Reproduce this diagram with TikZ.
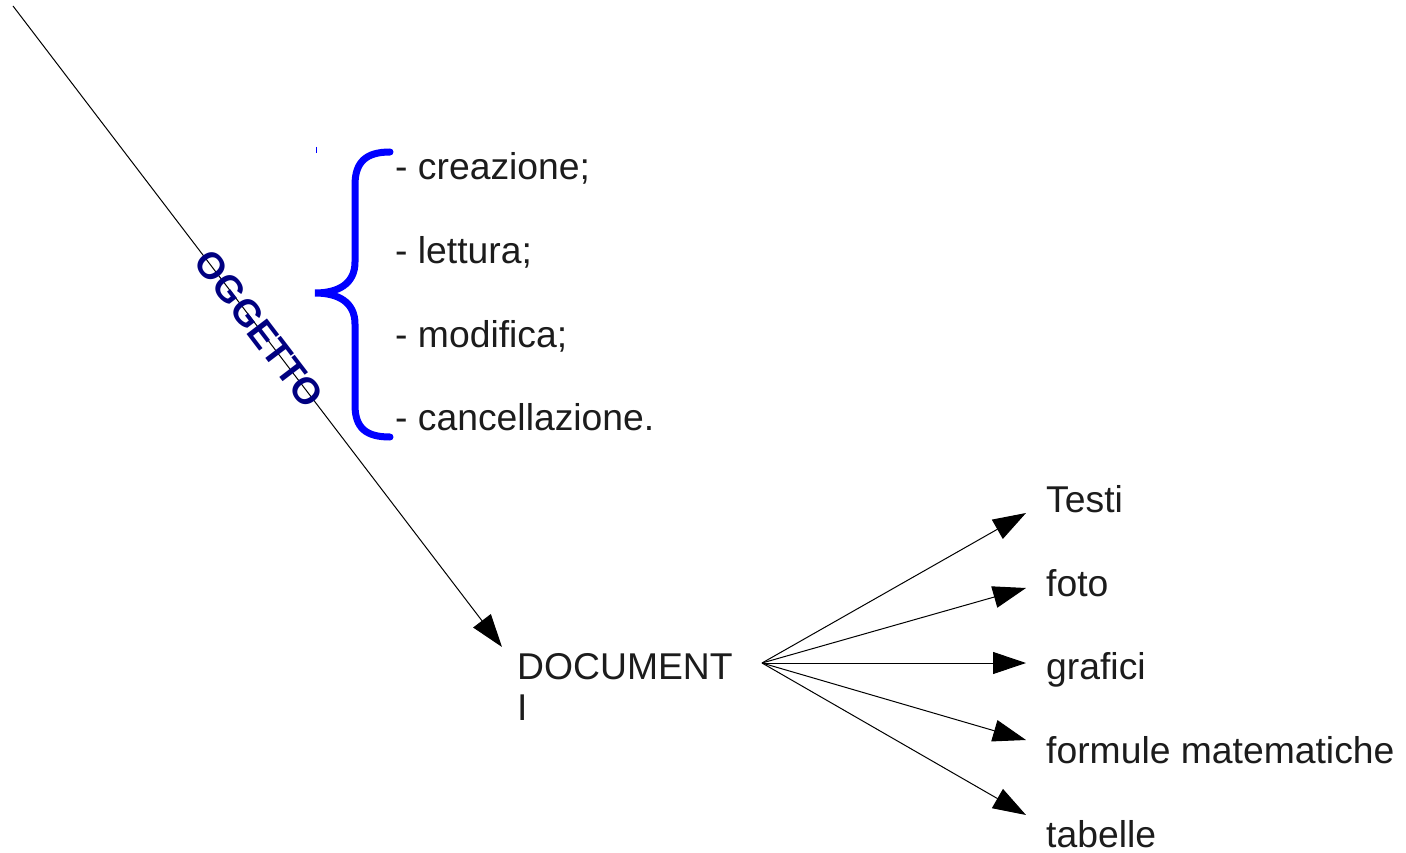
\documentclass[tikz,border=0pt]{standalone}
\usepackage{fontspec}
\setmainfont{Liberation Sans}
\usetikzlibrary{arrows.meta}
\definecolor{txt}{RGB}{28,28,28}
\definecolor{oggcol}{RGB}{0,0,128}
\tikzset{
  lbl/.style={anchor=base west, inner sep=0pt, text=txt, font=\fontsize{37.3}{44}\selectfont},
  conn/.style={draw=black, line width=1pt, -{Triangle[length=33pt,width=22pt]}},
  bracestyle/.style={draw={rgb,255:red,0;green,0;blue,255}, line width=7pt, line cap=round}
}
\begin{document}
\begin{tikzpicture}[x=1pt,y=-1pt]
\useasboundingbox (0,0) rectangle (1406,853);
% main line
\coordinate (start) at (13,6);
\coordinate (docTip) at (502,647);
\draw[conn] (start) -- (docTip);
\node[inner sep=0pt, text=oggcol, rotate=-52.66, font=\bfseries\fontsize{37.3}{44}\selectfont] (ogg) at (259.4,329) {OGGETTO};
% small tick
\draw[draw={rgb,255:red,0;green,0;blue,255}, line width=1pt] (316,147) -- (316,153);
% brace
\draw[bracestyle] (390,152) .. controls (366,152) and (355,162) .. (355,185) -- (355,262) .. controls (355,284) and (338,293) .. (315,293) .. controls (338,293) and (355,302) .. (355,324) -- (355,405) .. controls (355,428) and (366,437) .. (390,437);
% list
\node[lbl] (l1) at (395,180) {- creazione;};
\node[lbl] (l2) at (395,263) {- lettura;};
\node[lbl] (l3) at (395,347) {- modifica;};
\node[lbl] (l4) at (395,430) {- cancellazione.};
% documenti
\node[lbl] (doc) at (517,679) {DOCUMENT};
\node[lbl] (docI) at (517,720) {I};
% targets
\node[lbl] (t1) at (1046,512) {Testi};
\node[lbl] (t2) at (1046,596) {foto};
\node[lbl] (t3) at (1046,679) {grafici};
\node[lbl] (t4) at (1046,763) {formule matematiche};
\node[lbl] (t5) at (1046,847) {tabelle};
\coordinate (hub) at (762,663);
\coordinate (a1) at (1026,513);
\coordinate (a2) at (1026,588);
\coordinate (a3) at (1026,663);
\coordinate (a4) at (1026,740);
\coordinate (a5) at (1026,815);
\foreach \k in {1,...,5} \draw[conn] (hub) -- (a\k);
\end{tikzpicture}
\end{document}
